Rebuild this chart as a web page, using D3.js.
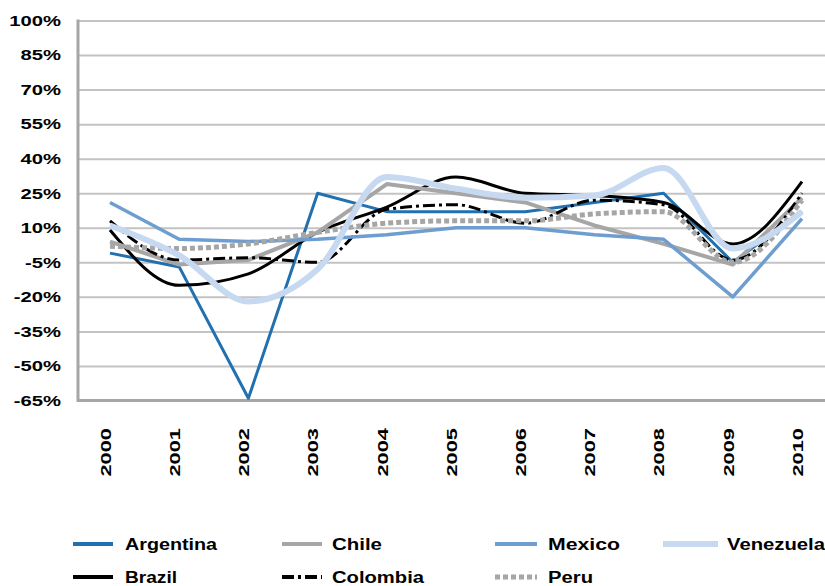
<!DOCTYPE html>
<html>
<head>
<meta charset="utf-8">
<script src="https://cdn.jsdelivr.net/npm/d3@7"></script>
<style>
  body { margin: 0; background: #fff; }
  svg { display: block; }
  text { font-family: "Liberation Sans", Arial, sans-serif; font-weight: bold; fill: #000; }
</style>
</head>
<body>
<svg id="chart" width="825" height="586"></svg>
<script>
// year categories and tick values
var years = ["2000", "2001", "2002", "2003", "2004", "2005", "2006", "2007", "2008", "2009", "2010"];
var yTicks = [-65, -50, -35, -20, -5, 10, 25, 40, 55, 70, 85, 100];

// yearly change, %
var argentina = [-1, -7, -64, 25, 17, 17, 17, 21, 25, -5, 17];
var brazil    = [9, -15, -10, 8, 19, 32, 25, 24, 21, 3, 30];
var chile     = [4, -6, -4, 8, 29, 25, 21, 11, 3, -6, 23];
var colombia  = [13, -4, -3, -5, 18, 20, 12, 22, 20, -4, 25];
var mexico    = [21, 5, 4, 5, 7, 10, 10, 7, 5, -20, 14];
var peru      = [2, 1, 3, 8, 12, 13, 13, 16, 17, -5, 22];
var venezuela = [11, -2, -22, -8, 32, 27, 23, 24, 36, 1, 17];

var series = [
	{ name: "Argentina", values: argentina, color: "#2170b0", width: 3,   dash: null,       smooth: false },
	{ name: "Brazil",    values: brazil,    color: "#000000", width: 3,   dash: null,       smooth: true },
	{ name: "Chile",     values: chile,     color: "#a6a6a6", width: 4,   dash: null,       smooth: false },
	{ name: "Colombia",  values: colombia,  color: "#000000", width: 3,   dash: "12,4,3,4", smooth: true },
	{ name: "Mexico",    values: mexico,    color: "#6e9dd0", width: 3.5, dash: null,       smooth: false },
	{ name: "Peru",      values: peru,      color: "#a6a6a6", width: 5,   dash: "5,3",      smooth: true },
	{ name: "Venezuela", values: venezuela, color: "#c6d9f0", width: 6,   dash: null,       smooth: true }
];

var svg = d3.select("#chart");
var plotLeft = 78, plotRight = 825;

var x = d3.scalePoint().domain(years).range([110, 802]);
var y = d3.scaleLinear().domain([-65, 100]).range([400.5, 20.5]);

// horizontal gridlines
var grid = svg.append("g")
	.attr("transform", "translate(" + plotLeft + ",0)")
	.call(d3.axisRight(y).tickValues(yTicks).tickSize(plotRight - plotLeft).tickFormat(""));
grid.select(".domain").remove();
grid.selectAll("line").attr("stroke", "#c3c3c3").attr("stroke-width", 2);

// frame: left and bottom axis lines
svg.append("line")
	.attr("x1", plotLeft).attr("x2", plotLeft)
	.attr("y1", y(100) - 1).attr("y2", y(-65) + 1.5)
	.attr("stroke", "#a6a6a6").attr("stroke-width", 3);
svg.append("line")
	.attr("x1", plotLeft).attr("x2", plotRight)
	.attr("y1", y(-65)).attr("y2", y(-65))
	.attr("stroke", "#a6a6a6").attr("stroke-width", 3);

// y labels
var yAxis = svg.append("g")
	.attr("transform", "translate(61,0)")
	.call(d3.axisLeft(y).tickValues(yTicks).tickSize(0).tickPadding(0).tickFormat(d => d + "%"));
yAxis.select(".domain").remove();
yAxis.selectAll("text")
	.attr("font-size", 15)
	.attr("font-family", null)
	.attr("transform", "scale(1.35,1)");

// x labels, rotated
var xAxis = svg.append("g")
	.attr("transform", "translate(0," + y(-65) + ")")
	.call(d3.axisBottom(x).tickSize(0));
xAxis.select(".domain").remove();
xAxis.selectAll("text")
	.attr("font-size", 15)
	.attr("font-family", null)
	.attr("text-anchor", "start")
	.attr("x", 0).attr("y", 0).attr("dy", "0.35em")
	.attr("transform", "translate(-5,76) rotate(-90) scale(1.45,1)");

// lines
var line = d3.line()
	.x((d, i) => x(years[i]))
	.y(d => y(d));
var smoothLine = d3.line()
	.x((d, i) => x(years[i]))
	.y(d => y(d))
	.curve(d3.curveMonotoneX);

svg.append("g").selectAll("path")
	.data(series)
	.enter()
	.append("path")
	.attr("d", d => (d.smooth ? smoothLine : line)(d.values))
	.attr("fill", "none")
	.attr("stroke", d => d.color)
	.attr("stroke-width", d => d.width)
	.attr("stroke-dasharray", d => d.dash)
	.attr("stroke-linejoin", "round");

// legend, filled column by column
var legendCols = [73, 282, 495, 663];
var legendRows = [544, 577];
var lenLine = [40, 40, 42, 55];
var legend = svg.append("g").selectAll("g")
	.data(series)
	.enter()
	.append("g")
	.attr("transform", (d, i) => "translate(" + legendCols[Math.floor(i / 2)] + "," + legendRows[i % 2] + ")");

legend.append("line")
	.attr("x1", 0)
	.attr("x2", (d, i) => lenLine[Math.floor(i / 2)])
	.attr("stroke", d => d.color)
	.attr("stroke-width", d => Math.max(4, d.width))
	.attr("stroke-dasharray", d => d.dash);

var textW = { Argentina: 92, Brazil: 52, Chile: 50, Colombia: 92, Mexico: 72, Peru: 45, Venezuela: 98 };
legend.append("text")
	.attr("x", (d, i) => [52, 50, 53, 64][Math.floor(i / 2)])
	.attr("dy", "0.35em")
	.attr("font-size", 16)
	.attr("textLength", d => textW[d.name])
	.attr("lengthAdjust", "spacingAndGlyphs")
	.text(d => d.name);
</script>
</body>
</html>
